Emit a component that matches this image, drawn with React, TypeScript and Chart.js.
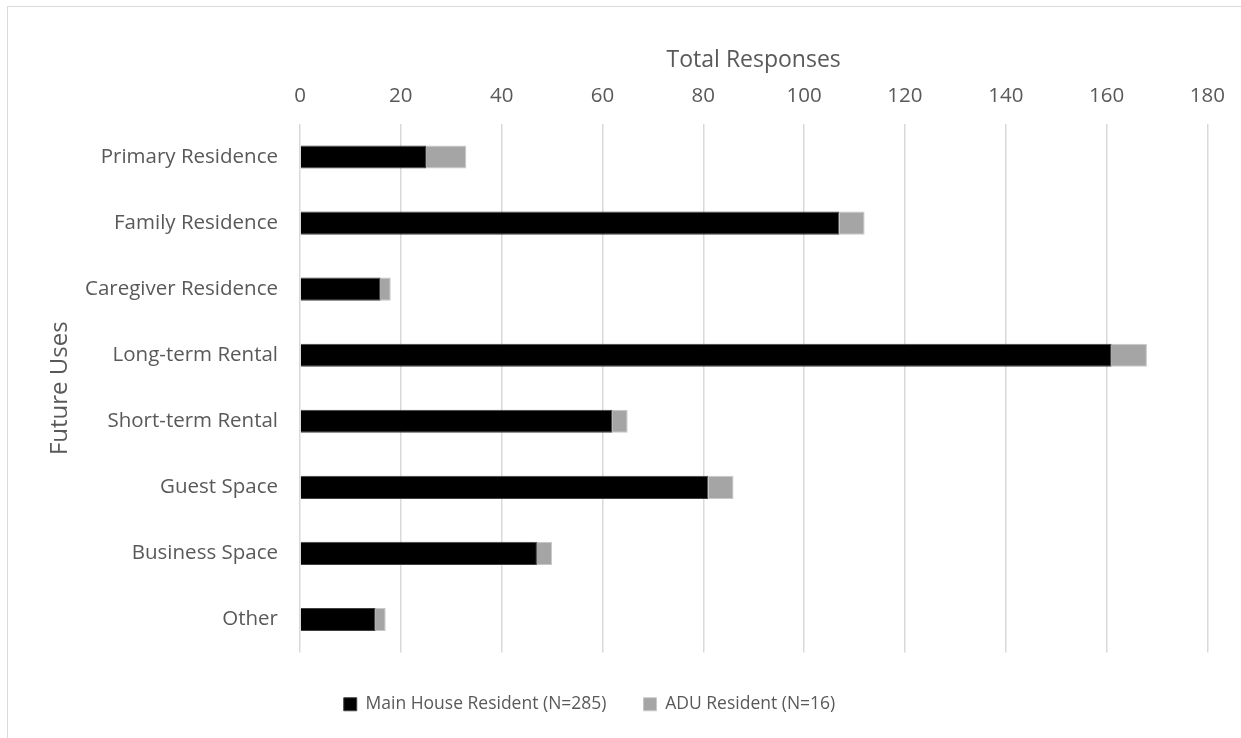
import React, { useEffect, useRef } from "react";
import { Chart, registerables } from "chart.js";

Chart.register(...registerables);

const categories = [
  "Primary Residence",
  "Family Residence",
  "Caregiver Residence",
  "Long-term Rental",
  "Short-term Rental",
  "Guest Space",
  "Business Space",
  "Other",
];
const mainHouse = [25, 107, 16, 161, 62, 81, 47, 15];
const aduResident = [8, 5, 2, 7, 3, 5, 3, 2];
const seriesNames = ["Main House Resident (N=285)", "ADU Resident (N=16)"];
const xTitle = "Total Responses";
const yTitle = "Future Uses";

const FONT = "'Open Sans', sans-serif";
const TEXT = "#595959";
const PAD_LEFT = 46;
const PAD_TOP = 40;
const LEGEND_SHIFT = -38;

const legendShift = {
  id: "legendShift",
  afterLayout(chart: any) {
    const lg = chart.legend;
    if (lg) {
      lg.left += LEGEND_SHIFT;
      lg.right += LEGEND_SHIFT;
    }
  },
};

export default function App() {
  const ref = useRef<HTMLCanvasElement | null>(null);
  useEffect(() => {
    if (!ref.current) return;
    const chart = new Chart(ref.current, {
      type: "bar",
      plugins: [legendShift],
      data: {
        labels: categories,
        datasets: [
          {
            label: seriesNames[0],
            data: mainHouse,
            backgroundColor: "#000000",
            borderColor: "#404040",
            borderWidth: 1,
            categoryPercentage: 1,
            barPercentage: 0.35,
            xAxisID: "x",
          },
          {
            label: seriesNames[1],
            data: aduResident,
            backgroundColor: "#a5a5a5",
            borderColor: "#c8c8c8",
            borderWidth: 1,
            categoryPercentage: 1,
            barPercentage: 0.35,
            xAxisID: "x",
          },
        ],
      },
      options: {
        indexAxis: "y",
        animation: false,
        responsive: false,
        maintainAspectRatio: false,
        layout: { padding: { left: PAD_LEFT, right: 32, top: PAD_TOP, bottom: 15 } },
        plugins: {
          tooltip: { enabled: false },
          legend: {
            position: "bottom",
            labels: {
              font: { family: FONT, size: 17.5 },
              color: TEXT,
              boxWidth: 13,
              boxHeight: 13,
              padding: 37,
              useBorderRadius: false,
            },
          },
        },
        scales: {
          x: {
            position: "top",
            stacked: true,
            min: 0,
            max: 180,
            ticks: {
              stepSize: 20,
              font: { family: FONT, size: 20.5 },
              color: TEXT,
              padding: 16,
            },
            grid: { color: "#d9d9d9", lineWidth: 1.5, drawTicks: false },
            border: { display: false },
            title: {
              display: true,
              text: xTitle,
              font: { family: FONT, size: 23 },
              color: TEXT,
              padding: { top: 7, bottom: 4 },
            },
            afterFit: (s: any) => {
              s.height = 124 - PAD_TOP;
            },
          },
          xSpacer: {
            type: "linear",
            position: "bottom",
            display: true,
            ticks: { display: false },
            grid: { display: false, drawTicks: false },
            border: { display: false },
            afterFit: (s: any) => {
              s.height = 6;
            },
          },
          y: {
            stacked: true,
            ticks: {
              font: { family: FONT, size: 20.5 },
              color: TEXT,
              padding: 22,
            },
            grid: { display: false, drawTicks: false },
            border: { display: false },
            title: {
              display: true,
              text: yTitle,
              font: { family: FONT, size: 24 },
              color: TEXT,
              padding: { top: 0, bottom: 0 },
            },
            afterFit: (s: any) => {
              s.width = 300 - PAD_LEFT;
            },
          },
        },
      },
    });
    return () => chart.destroy();
  }, []);
  return (
    <div
      style={{
        position: "fixed",
        left: 0,
        top: 0,
        width: 1241,
        height: 738,
        background: "#fff",
      }}
    >
      <div
        style={{
          position: "absolute",
          left: 7,
          top: 6,
          width: 1260,
          height: 760,
          border: "1px solid #d9d9d9",
        }}
      />
      <canvas
        ref={ref}
        width={1241}
        height={738}
        style={{ position: "absolute", left: 0, top: 0 }}
      />
    </div>
  );
}
